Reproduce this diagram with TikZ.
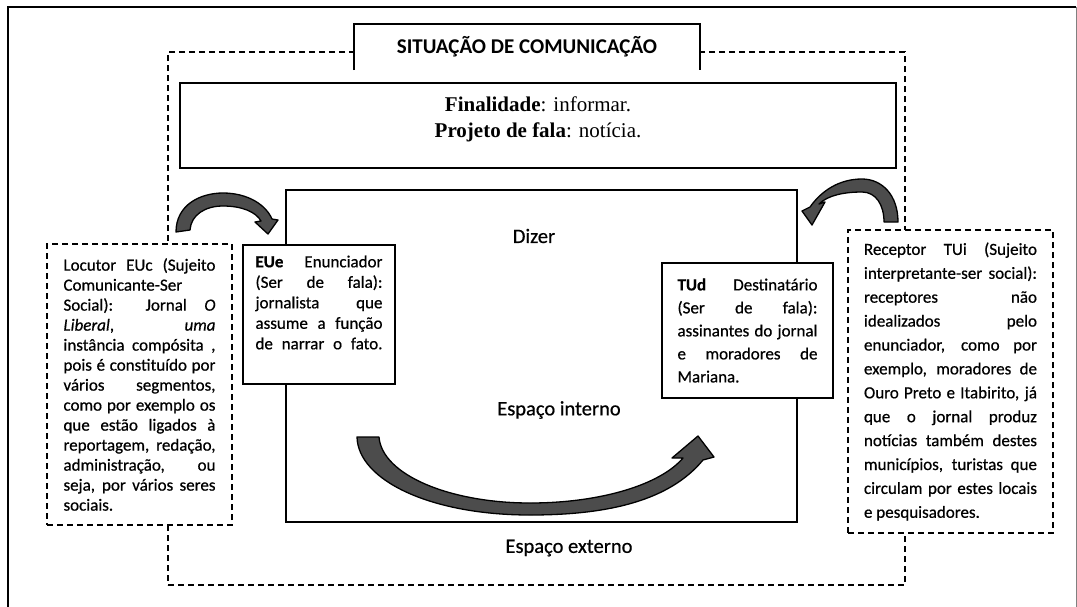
\documentclass[tikz,border=0pt]{standalone}
\usepackage{fontspec}
\setmainfont{Carlito}
\newfontfamily\bodyfont[FakeBold=0.6]{Carlito}
\newfontfamily\serifont{Liberation Serif}
\usetikzlibrary{arrows.meta}
\tikzset{
  box/.style={draw=black, line width=1.5pt, fill=white, inner sep=0pt},
  dbox/.style={draw=black, line width=1.6pt, dash pattern=on 6pt off 4pt, inner sep=0pt},
  lbl/.style={font=\bodyfont\fontsize{20.5}{24}\selectfont, inner sep=0pt},
  arrowshape/.style={fill=black!70, draw=black, line width=1.3pt, line join=round},
}
\newcommand\jl[1]{\makebox[\linewidth][s]{#1}\par}
\newcommand\rl[1]{#1\par}
\begin{document}
\begin{tikzpicture}[x=1pt,y=-1pt]
\useasboundingbox (0,0) rectangle (1077,606);
% outer frame
\draw[line width=1.8pt] (8,615) -- (8,7) -- (1076,7);
\draw[line width=1pt, black!50] (1076,7) -- (1076,615);
% external dashed space
\node[dbox, minimum width=737, minimum height=533] (ext) at (536.5,318.5) {};
% title tab
\node[fill=white, minimum width=346, minimum height=46, inner sep=0pt,
      font=\bfseries\fontsize{21}{24}\selectfont] (tab) at (527,47) {SITUAÇÃO DE COMUNICAÇÃO};
\draw[line width=1.5pt] (tab.south west) -- (tab.north west) -- (tab.north east) -- (tab.south east);
% finalidade box
\node[box, minimum width=716, minimum height=85] (fin) at (538,125.5) {};
\node[font=\serifont\fontsize{21}{26}\selectfont, align=center, inner sep=0pt] (fintxt) at (538,119)
  {\textbf{Finalidade}: informar.\\ \textbf{Projeto de fala}: notícia.};
% inner space
\node[box, fill=none, minimum width=511, minimum height=332] (inner) at (541.5,356) {};
\node[lbl] (dizer) at (534,236) {Dizer};
\node[lbl] (espint) at (559,410) {Espaço interno};
\node[lbl] (espext) at (569,548) {Espaço externo};
% big arrow
\path[arrowshape] (357,437) -- (379,437)
  .. controls (382,475) and (450,503) .. (530,503)
  .. controls (600,503) and (660,485) .. (683,458)
  -- (672,458) -- (698,436) -- (714,457) -- (703,460)
  .. controls (670,500) and (610,515) .. (530,515)
  .. controls (430,515) and (358,480) .. (357,437) -- cycle;
% left small arrow
\path[arrowshape] (176,232)
  .. controls (176,205) and (200,193) .. (223,193)
  .. controls (248,193) and (266,205) .. (272,219)
  -- (278,220) -- (268,234) -- (255,222) -- (261,221)
  .. controls (256,212) and (242,206) .. (223,206)
  .. controls (205,206) and (191,215) .. (190,230) -- cycle;
% right small arrow
\path[arrowshape] (898,222)
  .. controls (898,195) and (882,179) .. (862,179)
  .. controls (840,179) and (822,190) .. (810,207)
  -- (802,211) -- (812,225) -- (825,202) -- (819,204)
  .. controls (828,195) and (845,192) .. (862,192)
  .. controls (876,192) and (884,205) .. (884,222) -- cycle;
% EUe box
\node[box, minimum width=152, minimum height=139] (eue) at (319,314.5)
  {\parbox[c][118pt][t]{127pt}{\bodyfont\fontsize{17}{20.5}\selectfont
   \jl{\textbf{EUe} Enunciador}
   \jl{(Ser de fala):}
   \jl{jornalista que}
   \jl{assume a função}
   \jl{de narrar o fato.}}};
% TUd box
\node[box, minimum width=171, minimum height=135] (tud) at (747.5,330.5)
  {\parbox{140pt}{\bodyfont\fontsize{17}{23}\selectfont
   \jl{\textbf{TUd} Destinatário}
   \jl{(Ser de fala):}
   \jl{assinantes do jornal}
   \jl{e moradores de}
   \rl{Mariana.}}};
% Locutor box
\node[box, dbox, minimum width=185, minimum height=281] (loc) at (139.5,384.5)
  {\parbox{152pt}{\bodyfont\fontsize{17}{20}\selectfont
   \jl{Locutor EUc (Sujeito}
   \rl{Comunicante-Ser}
   \jl{Social): Jornal \textit{O}}
   \jl{\textit{Liberal}, \textit{uma}}
   \jl{instância compósita ,}
   \jl{pois é constituído por}
   \jl{vários segmentos,}
   \jl{como por exemplo os}
   \jl{que estão ligados à}
   \jl{reportagem, redação,}
   \jl{administração, ou}
   \jl{seja, por vários seres}
   \rl{sociais.}}};
% Receptor box
\node[box, dbox, minimum width=205, minimum height=303] (rec) at (950.5,381.5)
  {\parbox{173pt}{\bodyfont\fontsize{17}{23.9}\selectfont
   \jl{Receptor TUi (Sujeito}
   \jl{interpretante-ser social):}
   \jl{receptores não}
   \jl{idealizados pelo}
   \jl{enunciador, como por}
   \jl{exemplo, moradores de}
   \jl{Ouro Preto e Itabirito, já}
   \jl{que o jornal produz}
   \jl{notícias também destes}
   \jl{municípios, turistas que}
   \jl{circulam por estes locais}
   \rl{e pesquisadores.}}};
\end{tikzpicture}
\end{document}
